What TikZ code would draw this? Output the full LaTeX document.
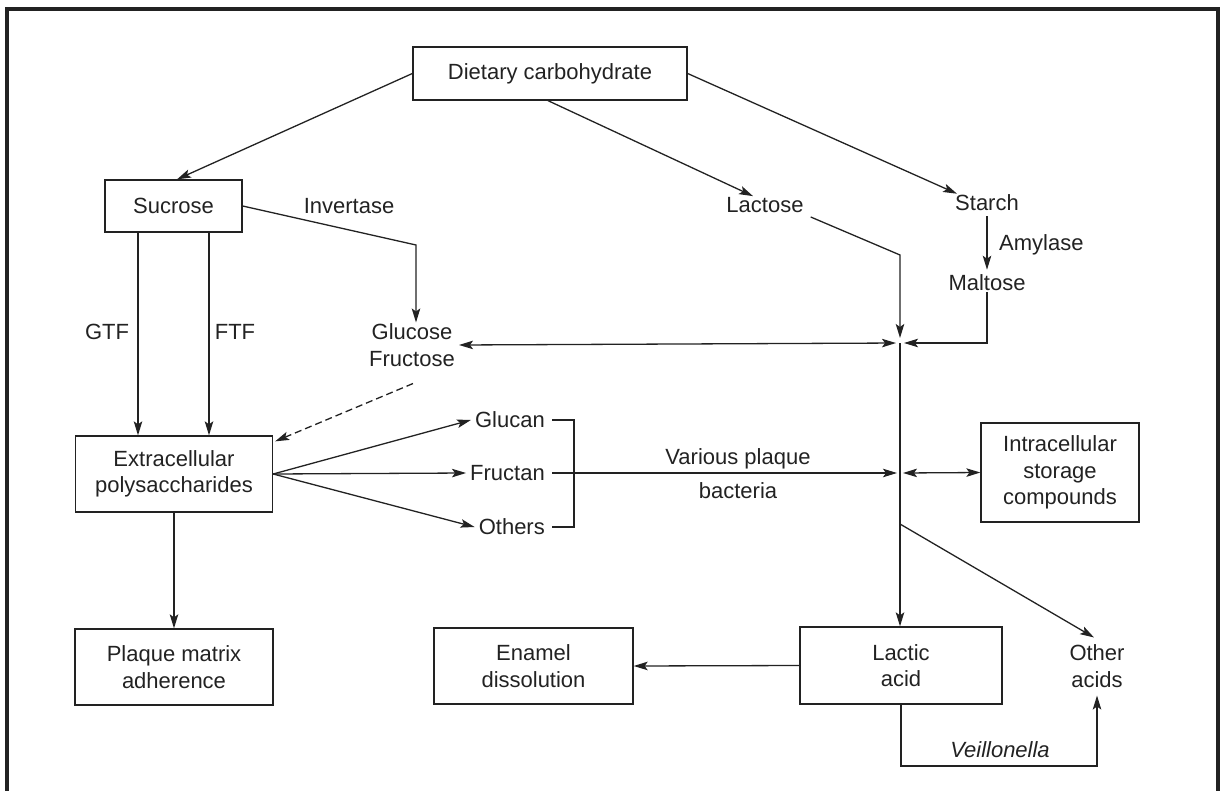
\documentclass[tikz,border=0pt]{standalone}
\usepackage{fontspec}
\setmainfont{Liberation Sans}
\usetikzlibrary{arrows.meta,calc}
\definecolor{ink}{HTML}{222222}
\begin{document}
\begin{tikzpicture}[x=1pt,y=-1pt,
  every node/.style={text=ink},
  font=\fontsize{22}{26.5}\selectfont,
  box/.style={draw=ink, line width=1.3pt, align=center, inner sep=0pt},
  lbl/.style={inner sep=1pt, align=center},
  tipx/.tip={Stealth[length=14pt,width=8.5pt,inset=3pt]},
  ln/.style={draw=ink, line width=1.3pt},
  arr/.style={ln, -tipx},
  darr/.style={ln, tipx-tipx},
]
\useasboundingbox (0,0) rectangle (1222,791);
\clip (0,0) rectangle (1222,791);

% frame
\draw[line width=4pt, ink] (7,800) -- (7,9) -- (1218,9) -- (1218,800);

% nodes
\node[box, minimum width=274pt, minimum height=53pt] (dc) at (550,73.5) {Dietary carbohydrate};
\node[box, minimum width=137pt, minimum height=52pt] (suc) at (173.5,206) {Sucrose};
\node[lbl] (lac) at (765,205) {Lactose};
\node[lbl] (st) at (987,203) {Starch};
\node[lbl] (mal) at (987,283) {Maltose};
\node[lbl, anchor=west] (amy) at (998,245) {Amylase};
\node[lbl] (inv) at (349,206) {Invertase};
\node[lbl] (gf) at (412,345) {Glucose\\Fructose};
\node[lbl] (gtf) at (107,332) {GTF};
\node[lbl] (ftf) at (235,332) {FTF};
\node[box, minimum width=197pt, minimum height=76pt] (ecp) at (174,474) {Extracellular\\polysaccharides};
\node[box, minimum width=198pt, minimum height=76pt] (pm) at (174,667) {Plaque matrix\\adherence};
\node[lbl, inner sep=4pt, anchor=east] (glu) at (549,420) {Glucan};
\node[lbl, inner sep=4pt, anchor=east] (fru) at (549,473) {Fructan};
\node[lbl, inner sep=4pt, anchor=east] (oth) at (549,527) {Others};
\node[lbl] (vpb) at (738,473.5) {Various plaque\\[7pt]bacteria};
\node[box, minimum width=158pt, minimum height=99pt] (isc) at (1060,472.5) {Intracellular\\storage\\compounds};
\node[box, minimum width=202pt, minimum height=77pt] (la) at (901,665.5) {Lactic\\acid};
\node[box, minimum width=199pt, minimum height=76pt] (en) at (533.5,666) {Enamel\\dissolution};
\node[lbl] (oa) at (1097,666) {Other\\acids};
\node[lbl, font=\fontsize{22}{26.5}\selectfont\itshape] (vei) at (1000,750) {Veillonella};

% coordinates
\coordinate (J1) at (900,343);
\coordinate (J2) at (900,473);
\coordinate (lacb) at (900,255);
\coordinate (invb) at (416,245);
\coordinate (d0) at (900,524);
\coordinate (brb) at (574,527);
\coordinate (vb) at (900,766);

% top connectors
\draw[arr] (dc.west) -- ([xshift=3.5pt]suc.north);
\draw[arr] ([xshift=-2pt]dc.south) -- ([xshift=-12pt]lac.north);
\draw[arr] (dc.east) -- ([xshift=-30pt]st.north);
\draw[arr, shorten <=4pt, shorten >=4pt] (st.south) -- (mal.north);

% into junction
\draw[arr, shorten >=5pt] ($(lac.east)+(6,12)$) -- (lacb) -- (J1);
\draw[arr, shorten >=4pt] (mal.south) -- (mal.south |- J1) -- (J1);
\draw[darr, shorten >=4pt] ($(gf.east)+(3,0)$) -- (J1);

% sucrose branches
\draw[arr] (suc.east) -- (invb) -- (invb |- gf.north);
\draw[arr] ([xshift=-35.5pt]suc.south) -- ([xshift=-35.5pt]suc.south |- ecp.north);
\draw[arr] ([xshift=35.5pt]suc.south) -- ([xshift=35.5pt]suc.south |- ecp.north);
\draw[arr, dash pattern=on 7pt off 4pt] ($(gf.south)+(1,16)$) -- ($(ecp.north east)+(2,6)$);

% polysaccharide fan
\draw[arr] (ecp.east) -- (glu.west);
\draw[arr] (ecp.east) -- (fru.west);
\draw[arr] (ecp.east) -- (oth.west);
\draw[ln] ($(glu.east)+(3,0)$) -| (brb) -- ($(oth.east)+(3,0)$);
\draw[arr, shorten >=3pt] ($(fru.east)+(3,0)$) -- (J2);
\draw[darr] ($(J2)+(3,0)$) -- (isc.west);

% downwards
\draw[arr] (ecp.south) -- (pm.north);
\draw[arr] (J1) -- (J1 |- la.north);
\draw[arr] (d0) -- ([shift={(-3pt,6pt)}]oa.north);
\draw[arr] (la.west) -- (en.east);
\draw[arr] (la.south) -- (la.south |- vb) -| ([yshift=-7pt]oa.south);
\end{tikzpicture}
\end{document}
